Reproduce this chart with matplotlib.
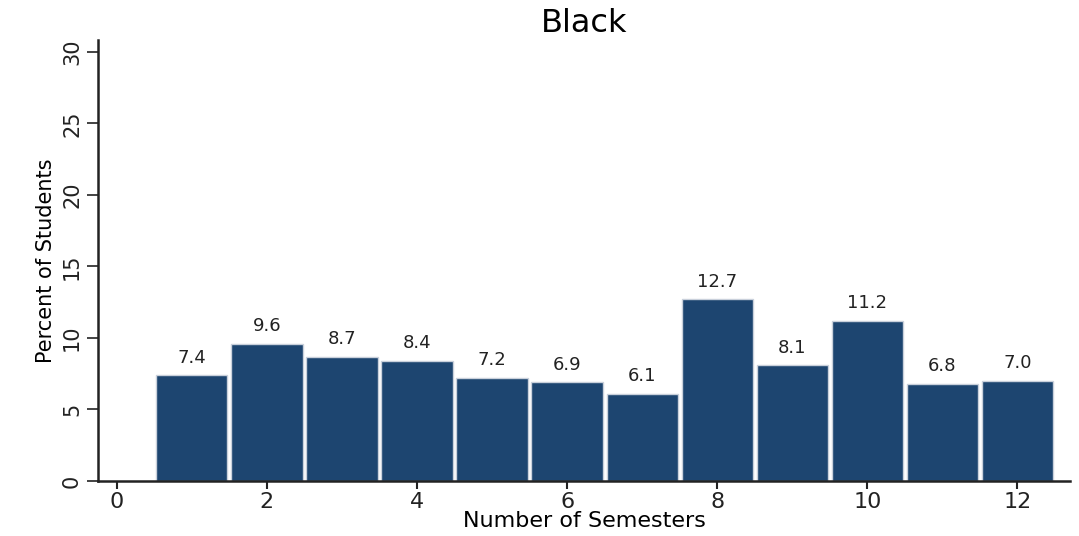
import matplotlib
matplotlib.use("Agg")
import matplotlib.pyplot as plt

semesters = [1, 2, 3, 4, 5, 6, 7, 8, 9, 10, 11, 12]
percents = [7.4, 9.6, 8.7, 8.4, 7.2, 6.9, 6.1, 12.7, 8.1, 11.2, 6.8, 7.0]
labels = ["7.4", "9.6", "8.7", "8.4", "7.2", "6.9", "6.1", "12.7", "8.1", "11.2", "6.8", "7.0"]
xticks = [0, 2, 4, 6, 8, 10, 12]
yticks = [0, 5, 10, 15, 20, 25, 30]

fig = plt.figure(figsize=(10.79, 5.36), dpi=100)
ax = fig.add_axes([0.0908, 0.1026, 0.9009, 0.822])
bars = ax.bar(semesters, percents, width=0.95, color="#1d4570",
              edgecolor="#c9d0db", linewidth=1.0)
for b, lab in zip(bars, labels):
    ax.text(b.get_x() + b.get_width() / 2, b.get_height() + 0.6, lab,
            ha="center", va="bottom", fontsize=13, color="#222222")

ax.set_xlim(-0.25, 12.7)
ax.set_ylim(0, 30.8)
ax.set_xticks(xticks)
ax.set_yticks(yticks)
ax.tick_params(axis="x", labelsize=16, length=6, width=1.5, colors="#222222", pad=2)
ax.tick_params(axis="y", labelsize=15, length=8, width=1.2, colors="#222222",
               labelrotation=90)
for t in ax.get_yticklabels():
    t.set_va("center")
for s in ["top", "right"]:
    ax.spines[s].set_visible(False)
for s in ["left", "bottom"]:
    ax.spines[s].set_linewidth(1.8)
    ax.spines[s].set_color("#222222")
ax.set_xlabel("Number of Semesters", fontsize=16, labelpad=-1)
ax.set_ylabel("Percent of Students", fontsize=15, labelpad=4)
ax.set_title("Black", fontsize=23, pad=6)
fig.savefig("out.png", dpi=100)
